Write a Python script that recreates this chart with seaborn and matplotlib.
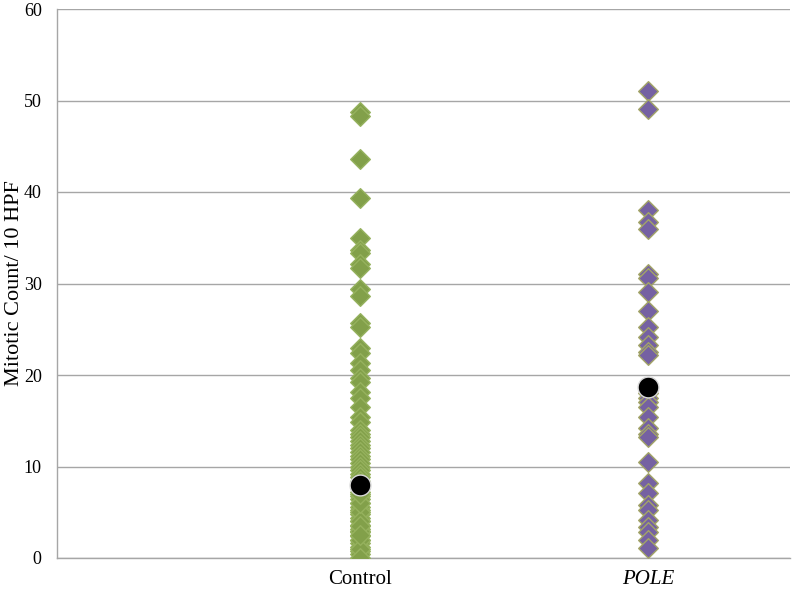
import matplotlib
matplotlib.use("Agg")
import matplotlib.pyplot as plt
import seaborn as sns
import pandas as pd

categories = ["Control", "POLE"]

control_values = [48.7, 48.3, 43.6, 39.3, 35.0, 33.7, 33.3, 32.1, 31.7, 29.4, 28.6,
                  25.7, 25.3, 23.0, 22.4, 21.3, 20.5, 19.7, 19.2, 18.1, 17.5, 16.5,
                  15.4, 14.9, 14.0, 13.6, 13.2, 12.8, 12.4, 12.0, 11.6, 11.2, 10.8,
                  10.4, 10.0, 9.6, 9.2, 8.8, 8.4, 8.0, 7.6, 7.2, 6.8, 6.4, 6.0, 5.6,
                  5.2, 4.8, 4.4, 4.0, 3.6, 3.2, 2.8, 2.4, 2.0, 1.6, 1.2, 0.8, 0.4, 0.0,
                  5.0, 4.0, 3.0, 2.0, 1.0, 0.0, 6.0, 7.0, 3.5, 2.5]

pole_values = [51.0, 49.1, 38.0, 36.7, 36.0, 31.0, 30.6, 29.1, 27.0, 25.2, 24.2,
               23.3, 22.5, 22.2, 18.0, 17.5, 17.0, 16.5, 15.4, 14.2, 13.5, 13.2,
               10.5, 8.2, 7.1, 5.8, 5.2, 4.2, 3.4, 2.8, 2.0, 1.1]

group_means = [8.0, 18.7]

y_ticks = [0, 10, 20, 30, 40, 50, 60]
y_label = "Mitotic Count/ 10 HPF"

df = pd.DataFrame({
    "group": ["Control"] * len(control_values) + ["POLE"] * len(pole_values),
    "value": control_values + pole_values,
})
df_mean = pd.DataFrame({"group": categories, "value": group_means})

sns.set_style("white")
plt.rcParams["font.family"] = ["Liberation Serif", "DejaVu Serif"]
plt.rcParams["text.color"] = "black"
plt.rcParams["axes.labelcolor"] = "black"
plt.rcParams["xtick.color"] = "black"
plt.rcParams["ytick.color"] = "black"

fig = plt.figure(figsize=(8, 5.9), dpi=100)
ax = fig.add_axes([57 / 800, 32 / 590, (790 - 57) / 800, (558 - 9) / 590])

palette_face = {"Control": "#82a04a", "POLE": "#7561a2"}
palette_edge = {"Control": "#96b25e", "POLE": "#a3a567"}

for cat in categories:
    sub = df[df["group"] == cat]
    sns.stripplot(data=sub, x="group", y="value", order=categories, jitter=False,
                  marker="D", size=10, color=palette_face[cat],
                  edgecolor=palette_edge[cat], linewidth=1.0, ax=ax, zorder=3)

sns.stripplot(data=df_mean, x="group", y="value", order=categories, jitter=False,
              marker="o", size=15, color="black", edgecolor="#d9d9d9",
              linewidth=1.0, ax=ax, zorder=4)

ax.set_xlim(-1.052, 1.493)
ax.set_ylim(0, 60)
ax.set_yticks(y_ticks)
ax.set_yticklabels([str(t) for t in y_ticks], fontsize=13)
ax.set_xticks([0, 1])
ax.set_xticklabels(categories, fontsize=15)
ax.get_xticklabels()[1].set_style("italic")
ax.set_xlabel("")
ax.set_ylabel(y_label, fontsize=16)
ax.yaxis.set_label_coords(-0.045, 0.5)

ax.yaxis.grid(True, color="#a6a6a6", linewidth=1.0)
ax.xaxis.grid(False)
ax.set_axisbelow(True)
for s in ["top", "right"]:
    ax.spines[s].set_visible(False)
for s in ["left", "bottom"]:
    ax.spines[s].set_color("#a6a6a6")
    ax.spines[s].set_linewidth(1.0)
ax.tick_params(axis="y", length=5, color="#a6a6a6", labelcolor="black", pad=6)
ax.tick_params(axis="x", length=0, labelcolor="black", pad=9)

fig.savefig("out.png", dpi=100)
